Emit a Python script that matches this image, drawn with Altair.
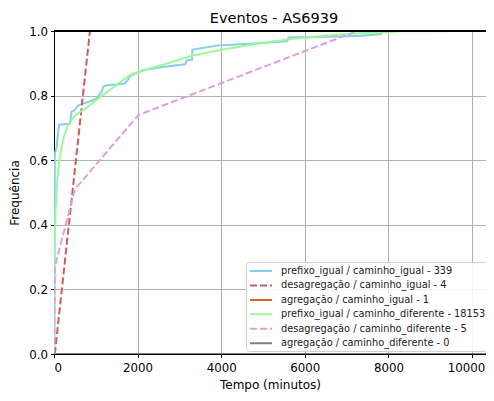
import altair as alt
import pandas as pd

series_names = [
    "prefixo_igual / caminho_igual - 339",
    "desagregação / caminho_igual - 4",
    "agregação / caminho_igual - 1",
    "prefixo_igual / caminho_diferente - 18153",
    "desagregação / caminho_diferente - 5",
    "agregação / caminho_diferente - 0",
]
series_colors = ["#87CEEB", "#CD5C5C", "#D2691E", "#98FB98", "#DDA0DD", "#808080"]
series_dash = [[1, 0], [7, 3], [1, 0], [1, 0], [7, 3], [1, 0]]

blue_x = [10, 20, 60, 120, 380, 420, 500, 560, 620, 860, 1020, 1140, 1180, 1300, 1500, 1700,
          1760, 1820, 1980, 2140, 2380, 2620, 3140, 3180, 3300, 3310, 3900, 4620, 5570, 5610,
          6530, 7330, 7800, 7900]
blue_y = [0.0, 0.62, 0.64, 0.71, 0.713, 0.75, 0.756, 0.767, 0.772, 0.782, 0.792, 0.812, 0.828,
          0.833, 0.834, 0.838, 0.848, 0.86, 0.87, 0.879, 0.884, 0.889, 0.897, 0.909, 0.911,
          0.942, 0.955, 0.960, 0.968, 0.980, 0.982, 0.985, 0.99, 1.0]

red_x = [20, 230, 440, 650, 860]
red_y = [0.0, 0.25, 0.5, 0.75, 1.0]

orange_x = [0]
orange_y = [0.0]

green_x = [0, 15, 40, 80, 140, 230, 340, 460, 580, 780, 1100, 1500, 1820, 2140, 2700, 3340,
           4140, 4930, 5730, 6530, 7330, 8300, 10030]
green_y = [0.0, 0.35, 0.45, 0.54, 0.61, 0.67, 0.711, 0.731, 0.746, 0.762, 0.795, 0.833, 0.864,
           0.879, 0.899, 0.925, 0.945, 0.962, 0.976, 0.986, 0.993, 0.999, 1.0]

pink_x = [0, 20, 500, 2020, 7250]
pink_y = [0.0, 0.27, 0.51, 0.74, 1.0]

gray_x = [0, 10400]
gray_y = [0.0, 0.0]

x_ticks = [0, 2000, 4000, 6000, 8000, 10000]
y_ticks = [0.0, 0.2, 0.4, 0.6, 0.8, 1.0]

all_x = [blue_x, red_x, orange_x, green_x, pink_x, gray_x]
all_y = [blue_y, red_y, orange_y, green_y, pink_y, gray_y]

rows = []
for name, xs, ys in zip(series_names, all_x, all_y):
    for i, (x, y) in enumerate(zip(xs, ys)):
        rows.append({"serie": name, "t": x, "f": y, "i": i})
df = pd.DataFrame(rows)

FONT = "DejaVu Sans"

color_scale = alt.Scale(domain=series_names, range=series_colors)
dash_scale = alt.Scale(domain=series_names, range=series_dash)

legend = alt.Legend(
    title=None, orient="none", legendX=192, legendY=231,
    symbolType="M-1.83,0L1.83,0", symbolSize=144, symbolStrokeWidth=2, symbolOffset=6,
    labelFontSize=9.8, labelFont=FONT, labelColor="#222222", labelLimit=400, labelOffset=13,
    fillColor="rgba(255,255,255,0.85)", strokeColor="#d0d0d0",
    padding=2, cornerRadius=3, rowPadding=2.45,
)

x_enc = alt.X("t:Q", scale=alt.Scale(domain=[0, 10335], nice=False, zero=False),
              axis=alt.Axis(values=x_ticks, title="Tempo (minutos)", format="d",
                            labelPadding=5, titlePadding=5,
                            labelOffset={"condition": {"test": "datum.value == 10000", "value": -6},
                                         "value": 0}))
y_enc = alt.Y("f:Q", scale=alt.Scale(domain=[0, 1], nice=False),
              axis=alt.Axis(values=y_ticks, format=".1f", title="Frequência",
                            labelPadding=3, titlePadding=7))

base = alt.Chart(df)
layers = []
for name in series_names:
    layers.append(
        base.transform_filter(alt.datum.serie == name)
        .mark_line(strokeWidth=2, clip=True)
        .encode(
            x=x_enc, y=y_enc,
            color=alt.Color("serie:N", scale=color_scale, legend=legend),
            strokeDash=alt.StrokeDash("serie:N", scale=dash_scale, legend=legend),
            order="i:Q",
        )
    )

top_rule = alt.Chart(df).mark_rule(color="black", strokeWidth=1).encode(y=alt.value(0))

chart = (
    alt.layer(*layers, top_rule)
    .properties(
        width=432, height=323,
        title=alt.TitleParams("Eventos - AS6939", font=FONT, fontSize=14.5, fontWeight="normal",
                              color="black", offset=0, dx=4),
        autosize=alt.AutoSizeParams(type="none"),
        padding={"left": 46, "top": 23, "right": 0, "bottom": 39},
    )
    .configure_view(stroke=None)
    .configure_axis(
        labelFont=FONT, titleFont=FONT, labelFontSize=11.8, titleFontSize=12,
        titleFontWeight="normal", labelColor="black", titleColor="black",
        grid=True, gridColor="#b0b0b0", gridWidth=1,
        domainColor="black", domainWidth=1, tickColor="black", tickSize=3.5,
    )
)

chart.save("out.html", embed_options={"renderer": "svg", "actions": False})
